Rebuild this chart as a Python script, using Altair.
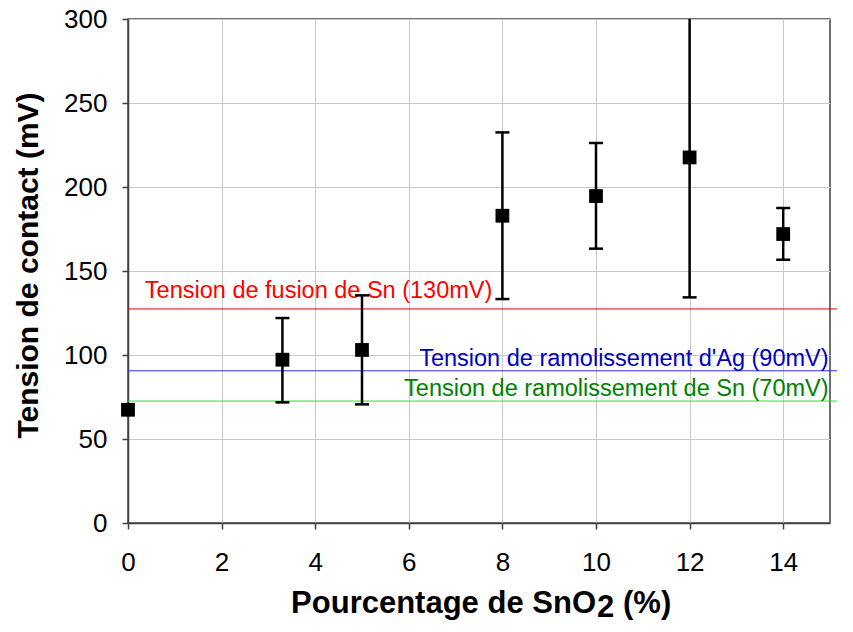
import altair as alt
import pandas as pd

# ---- data ----
sno2_pct = [0, 3.3, 5, 8, 10, 12, 14]
tension_mv = [67.4, 97.2, 103.0, 182.9, 194.6, 217.6, 172.0]
err_low = [None, 71.8, 70.6, 133.3, 163.3, 134.3, 156.7]
err_high = [None, 122.0, 135.5, 232.5, 226.2, 301.0, 187.5]

ref_values = [127.4, 90.6, 72.6]
ref_labels = [
    "Tension de fusion de Sn (130mV)",
    "Tension de ramolissement d'Ag (90mV)",
    "Tension de ramolissement de Sn (70mV)",
]
ref_line_colors = ["#e00000", "#3030e8", "#30e030"]
ref_text_colors = ["#ff0000", "#0000c0", "#008000"]

x_ticks = [0, 2, 4, 6, 8, 10, 12, 14]
y_ticks = [0, 50, 100, 150, 200, 250, 300]

y_title = "Tension de contact (mV)"
x_title_main = "Pourcentage de SnO"
x_title_sub = "2"
x_title_tail = "(%)"

FONT = "Liberation Sans"

# ---- tables ----
pts = pd.DataFrame({"x": sno2_pct, "y": tension_mv})
err = pd.DataFrame({"x": sno2_pct, "lo": err_low, "hi": err_high}).dropna()
caps = pd.concat([
    pd.DataFrame({"x": err["x"], "lo": err["lo"]}),
    pd.DataFrame({"x": err["x"], "lo": err["hi"]}),
])

xscale = alt.Scale(domain=[0, 15], nice=False, zero=False)
yscale = alt.Scale(domain=[0, 300], nice=False)

xaxis = alt.Axis(
    values=x_ticks, title=None, grid=True, tickSize=6, labelPadding=20,
    labelFontSize=26, labelFont=FONT, labelColor="black", labelFlush=False)
yaxis = alt.Axis(
    values=y_ticks, title=y_title, grid=True, tickSize=6, labelPadding=15,
    labelFontSize=26, labelFont=FONT, labelColor="black", labelFlush=False,
    titleFont=FONT, titleFontSize=30, titleFontWeight="bold", titleColor="black",
    titleAngle=270, titleAlign="center", titleBaseline="alphabetic",
    titleX=-91, titleY=246)


def X(field):
    return alt.X(field, type="quantitative", scale=xscale, axis=xaxis)


def Y(field):
    return alt.Y(field, type="quantitative", scale=yscale, axis=yaxis)


layers = []

# reference lines and their labels
for i, (val, lab, lc, tc) in enumerate(zip(ref_values, ref_labels, ref_line_colors, ref_text_colors)):
    d = pd.DataFrame({"y": [val], "label": [lab]})
    layers.append(
        alt.Chart(d).mark_rule(strokeWidth=1, clip=False, color=lc).encode(
            y=Y("y"),
            x=alt.datum(0, scale=xscale, axis=xaxis),
            x2=alt.datum(15.45),
        )
    )
    if i == 0:
        txt = alt.Chart(d).mark_text(
            align="left", baseline="alphabetic", dy=-11, fontSize=23.5, font=FONT, color=tc
        ).encode(y=Y("y"), x=alt.datum(0.36, scale=xscale, axis=xaxis), text="label:N")
    else:
        txt = alt.Chart(d).mark_text(
            align="right", baseline="alphabetic", dy=-5, fontSize=23.5, font=FONT, color=tc
        ).encode(y=Y("y"), x=alt.datum(14.97, scale=xscale, axis=xaxis), text="label:N")
    layers.append(txt)

bars = alt.Chart(err).mark_rule(strokeWidth=2.5, color="black", clip=True).encode(
    x=X("x"), y=Y("lo"), y2="hi:Q",
)
cap_ticks = alt.Chart(caps).mark_tick(
    orient="horizontal", size=14, thickness=2.5, color="black", clip=True, opacity=1
).encode(x=X("x"), y=Y("lo"))

points = alt.Chart(pts).mark_square(size=190, color="black", opacity=1).encode(
    x=X("x"), y=Y("y"),
)

layers += [bars, cap_ticks, points]


def title_piece(txt, align, xpx, ypx):
    return alt.Chart(pd.DataFrame({"t": [txt]})).mark_text(
        align=align, baseline="alphabetic", fontSize=31, fontWeight="bold",
        font=FONT, color="black"
    ).encode(text="t:N", x=alt.value(xpx), y=alt.value(ypx))


layers += [
    title_piece(x_title_main, "right", 468, 594),
    title_piece(x_title_sub, "left", 469, 598),
    title_piece(x_title_tail, "left", 495, 594),
]

chart = alt.layer(*layers).properties(
    width=702, height=504,
    autosize=alt.AutoSizeParams(type="none"),
    padding={"left": 120, "top": 11, "right": 7, "bottom": 101},
).configure_view(
    stroke="#404040", strokeWidth=1.5
).configure_axis(
    domainColor="#404040", domainWidth=1.5, tickColor="#404040", tickWidth=1.5,
    gridColor="#c8c8c8", gridWidth=1
)

chart.save("out.html", embed_options={"renderer": "svg", "actions": False})
